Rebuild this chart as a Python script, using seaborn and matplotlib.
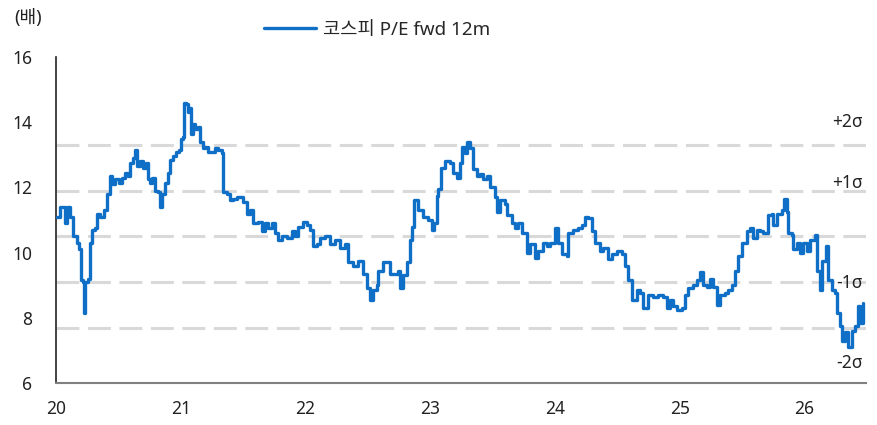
import matplotlib
matplotlib.use('Agg')
import matplotlib.pyplot as plt
import pandas as pd
import seaborn as sns

sns.set_theme(style='white')
plt.rcParams['font.family'] = ['Noto Sans', 'Noto Sans CJK KR', 'DejaVu Sans']

# decimal year (20 = 2020) and KOSPI forward 12m P/E
years = [
    20.008, 20.032, 20.056, 20.072, 20.088, 20.112, 20.136, 20.168, 20.184, 20.200,
    20.216, 20.224, 20.232, 20.256, 20.272, 20.288, 20.313, 20.329, 20.353, 20.385,
    20.409, 20.433, 20.449, 20.473, 20.505, 20.529, 20.553, 20.577, 20.593, 20.617,
    20.633, 20.649, 20.673, 20.697, 20.721, 20.737, 20.753, 20.769, 20.793, 20.817,
    20.833, 20.849, 20.873, 20.897, 20.913, 20.938, 20.962, 20.986,
    21.002, 21.018, 21.026, 21.042, 21.058, 21.074, 21.082, 21.098, 21.114, 21.138,
    21.154, 21.178, 21.194, 21.218, 21.250, 21.274, 21.298, 21.330, 21.338, 21.370,
    21.394, 21.418, 21.450, 21.490, 21.498, 21.530, 21.554, 21.579, 21.619, 21.651,
    21.675, 21.699, 21.731, 21.755, 21.779, 21.811, 21.851, 21.891, 21.915, 21.939,
    21.979,
    22.011, 22.035, 22.059, 22.091, 22.115, 22.155, 22.196, 22.236, 22.276, 22.316,
    22.340, 22.380, 22.420, 22.460, 22.492, 22.516, 22.540, 22.572, 22.580, 22.620,
    22.636, 22.660, 22.676, 22.716, 22.740, 22.756, 22.780, 22.813, 22.837, 22.853,
    22.869, 22.901, 22.941, 22.981,
    23.013, 23.029, 23.053, 23.061, 23.085, 23.117, 23.157, 23.181, 23.213, 23.237,
    23.253, 23.277, 23.293, 23.317, 23.341, 23.373, 23.397, 23.421, 23.454, 23.478,
    23.518, 23.534, 23.558, 23.598, 23.614, 23.654, 23.678, 23.702, 23.734, 23.774,
    23.798, 23.838, 23.862, 23.902, 23.934, 23.958, 23.998,
    24.022, 24.054, 24.095, 24.103, 24.143, 24.183, 24.215, 24.239, 24.263, 24.295,
    24.319, 24.359, 24.383, 24.423, 24.455, 24.495, 24.535, 24.559, 24.583, 24.615,
    24.655, 24.679, 24.704, 24.744, 24.784, 24.824, 24.864, 24.896, 24.920, 24.944,
    24.976,
    25.016, 25.040, 25.064, 25.104, 25.136, 25.160, 25.184, 25.216, 25.240, 25.264,
    25.296, 25.321, 25.361, 25.385, 25.417, 25.441, 25.465, 25.497, 25.537, 25.561,
    25.585, 25.617, 25.641, 25.665, 25.705, 25.737, 25.745, 25.777, 25.817, 25.833,
    25.857, 25.865, 25.897, 25.905, 25.938, 25.962, 25.986,
    26.018, 26.042, 26.082, 26.098, 26.122, 26.138, 26.170, 26.186, 26.218, 26.242,
    26.258, 26.282, 26.298, 26.322, 26.346, 26.378, 26.402, 26.426, 26.442, 26.466,
]
pe = [
    11.1, 11.4, 11.4, 10.9, 11.4, 11.1, 10.5, 10.3, 10.1, 9.15,
    9.1, 8.15, 9.1, 9.2, 10.3, 10.7, 10.75, 11.2, 11.1, 11.3,
    11.8, 12.35, 12.1, 12.25, 12.15, 12.3, 12.45, 12.35, 12.75, 12.9,
    13.15, 12.65, 12.8, 12.6, 12.75, 12.25, 12.15, 12.3, 11.9, 11.85,
    11.4, 11.8, 12.15, 12.45, 12.85, 12.95, 13.1, 13.15,
    13.5, 13.55, 14.6, 14.55, 14.3, 14.45, 13.65, 13.95, 13.8, 13.85,
    13.4, 13.2, 13.25, 13.1, 13.1, 13.2, 13.15, 13.05, 11.85, 11.8,
    11.6, 11.65, 11.7, 11.7, 11.55, 11.2, 11.3, 10.9, 10.95, 10.65,
    10.9, 10.75, 10.9, 10.6, 10.4, 10.5, 10.45, 10.65, 10.5, 10.8,
    10.95,
    10.85, 10.7, 10.2, 10.25, 10.45, 10.5, 10.25, 10.4, 10.15, 10.25,
    9.7, 9.6, 9.75, 9.35, 8.9, 8.55, 8.85, 9.0, 9.45, 9.7,
    9.72, 9.72, 9.35, 9.35, 9.45, 8.9, 9.3, 9.7, 10.4, 10.8,
    11.6, 11.3, 11.1, 11.0,
    10.7, 10.9, 11.75, 11.95, 12.6, 12.8, 12.75, 12.45, 12.3, 12.75,
    13.25, 13.05, 13.4, 13.2, 12.55, 12.35, 12.4, 12.25, 12.35, 12.0,
    11.7, 11.25, 11.6, 11.5, 11.15, 10.9, 10.75, 10.9, 10.6, 10.0,
    10.25, 9.85, 10.05, 10.3, 10.2, 10.3, 10.75,
    10.3, 9.95, 9.9, 10.6, 10.7, 10.75, 10.85, 11.1, 11.05, 10.65,
    10.3, 10.05, 10.15, 9.8, 9.95, 10.05, 9.95, 9.6, 9.15, 8.55,
    8.85, 8.75, 8.3, 8.7, 8.65, 8.7, 8.65, 8.3, 8.55, 8.35,
    8.25,
    8.3, 8.7, 8.9, 9.0, 9.15, 9.4, 9.0, 8.95, 9.2, 8.95,
    8.4, 8.7, 8.75, 8.85, 9.0, 9.45, 9.9, 10.3, 10.65, 10.75,
    10.45, 10.7, 10.65, 10.6, 11.15, 11.2, 10.85, 11.2, 11.3, 11.65,
    11.25, 10.6, 10.55, 10.1, 10.3, 10.0, 10.3,
    10.05, 10.4, 10.55, 9.45, 8.85, 9.75, 10.2, 9.15, 8.85, 8.75,
    8.15, 7.75, 7.3, 7.55, 7.1, 7.6, 7.75, 8.35, 7.85, 8.45,
]

sigma_levels = [13.3, 11.9, 10.5, 9.1, 7.7]
sigma_labels = ['+2σ', '+1σ', '-1σ', '-2σ']
sigma_label_y = [14.0, 12.13, 9.07, 6.6]
xticks = [20, 21, 22, 23, 24, 25, 26]
yticks = [6, 8, 10, 12, 14, 16]
series_name = '코스피 P/E fwd 12m'

df = pd.DataFrame({'year': years, 'pe': pe})

fig = plt.figure(figsize=(8.78, 4.25), dpi=100)
ax = fig.add_axes([0.0638, 0.0988, 0.922, 0.767])

for lvl in sigma_levels:
    ax.axhline(lvl, color='#D9D9D9', lw=2.2, dashes=(7.5, 2.8), zorder=1)

sns.lineplot(data=df, x='year', y='pe', ax=ax, color='#0F6FC6', lw=2.4,
             drawstyle='steps-post', estimator=None, label=series_name, zorder=3)

for lab, yy in zip(sigma_labels, sigma_label_y):
    ax.text(26.47, yy, lab, ha='right', va='center', fontsize=12.5, color='#222222')

ax.set_xlim(20, 26.49)
ax.set_ylim(6, 16)
ax.set_xticks(xticks)
ax.set_xticklabels([str(t) for t in xticks])
ax.set_yticks(yticks)
ax.set_xlabel('')
ax.set_ylabel('')

for s in ['top', 'right']:
    ax.spines[s].set_visible(False)
ax.spines['left'].set_color('#222222')
ax.spines['left'].set_linewidth(1.2)
ax.spines['bottom'].set_color('#808080')
ax.spines['bottom'].set_linewidth(1.5)

ax.tick_params(axis='x', direction='in', length=5, width=1, color='#555555',
               pad=12, labelsize=12.5, labelcolor='#222222')
ax.tick_params(axis='y', direction='in', length=5, width=1, color='#777777',
               pad=17, labelsize=12.5, labelcolor='#222222')

fig.text(14 / 878, 1 - 18 / 425, '(배)', ha='left', va='center', fontsize=13, color='#222222')

ax.legend(loc='center left', bbox_to_anchor=(264 / 878, 1 - 30 / 425),
          bbox_transform=fig.transFigure, frameon=False, borderpad=0,
          borderaxespad=0, handlelength=2.8, handletextpad=0.35, fontsize=13.5)

fig.savefig('out.png', dpi=100)
